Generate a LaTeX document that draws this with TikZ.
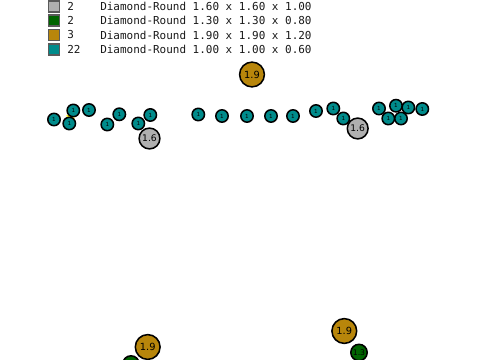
\documentclass[tikz,border=0pt]{standalone}
\usepackage{fontspec}
\setmainfont{DejaVu Sans}
\setmonofont{DejaVu Sans Mono}
\usetikzlibrary{positioning}

\definecolor{stonegrey}{RGB}{176,176,176}
\definecolor{leafgreen}{RGB}{0,100,0}
\definecolor{ochre}{RGB}{184,134,11}
\definecolor{tealfill}{RGB}{0,139,139}
\definecolor{keyedge}{RGB}{90,90,90}

\begin{document}
\begin{tikzpicture}[x=0.025cm, y=-0.025cm,
                    bead/.style={circle, draw=black, line width=1.1pt, inner sep=0pt},
                    tealbead/.style={bead, fill=tealfill, minimum size=0.31cm, font=\fontsize{4}{4}\selectfont},
                    greybead/.style={bead, fill=stonegrey, minimum size=0.52cm, font=\fontsize{6.5}{7}\selectfont},
                    greenbead/.style={bead, fill=leafgreen, minimum size=0.41cm, font=\fontsize{5.5}{6}\selectfont},
                    goldbead/.style={bead, fill=ochre, minimum size=0.62cm, font=\fontsize{7}{8}\selectfont},
                    keybox/.style={draw=keyedge, line width=0.9pt, minimum size=0.28cm, inner sep=0pt},
                    keytext/.style={anchor=west, inner sep=0pt, font=\ttfamily\fontsize{7.8}{9}\selectfont, text=black!90}]
\useasboundingbox (0,0) rectangle (480,360);

% legend
\node[keybox, fill=stonegrey] (k1) at (54,6.5) {};
\node[keybox, fill=leafgreen] (k2) at (54,20.5) {};
\node[keybox, fill=ochre] (k3) at (54,35) {};
\node[keybox, fill=tealfill] (k4) at (54,49.5) {};
\node[keytext] (n1) at (67,6.5) {2};
\node[keytext] (n2) at (67,20.5) {2};
\node[keytext] (n3) at (67,35) {3};
\node[keytext] (n4) at (67,49.5) {22};
\node[keytext] (d1) at (100,6.5) {Diamond-Round 1.60 x 1.60 x 1.00};
\node[keytext] (d2) at (100,20.5) {Diamond-Round 1.30 x 1.30 x 0.80};
\node[keytext] (d3) at (100,35) {Diamond-Round 1.90 x 1.90 x 1.20};
\node[keytext] (d4) at (100,49.5) {Diamond-Round 1.00 x 1.00 x 0.60};

% yellow mark
\coordinate (m0) at (66.5,115.5);
\coordinate (m1) at (74.5,118.5);
\draw[yellow, line width=1pt] (m0) -- (m1);

% small beads
\foreach \p [count=\i] in {(54,119.5),(73.3,110.5),(69.3,123.5),(89,110),
                           (107.3,124.5),(119.3,114.3),(138.3,123.5),(150.3,115),
                           (198.3,114.5),(222,116),(247,116),(271,116),(293,116),
                           (316,111),(333.3,108.5),(343.3,118.5),
                           (379,108.5),(388.3,118.5),(396,105.7),(401,118.5),(408.3,107.5),(422.3,109)}
  \node[tealbead] (t\i) at \p {1};

\node[greybead] (g1) at (149.5,138.5) {1.6};
\node[greybead] (g2) at (357.7,128.5) {1.6};
\node[goldbead] (o1) at (252,74.5) {1.9};

\node[greenbead] (e1) at (131,364) {};
\node[goldbead] (o2) at (147.7,347) {1.9};
\node[goldbead] (o3) at (344.3,331) {1.9};
\node[greenbead] (e2) at (359,352.5) {1.3};
\end{tikzpicture}
\end{document}
